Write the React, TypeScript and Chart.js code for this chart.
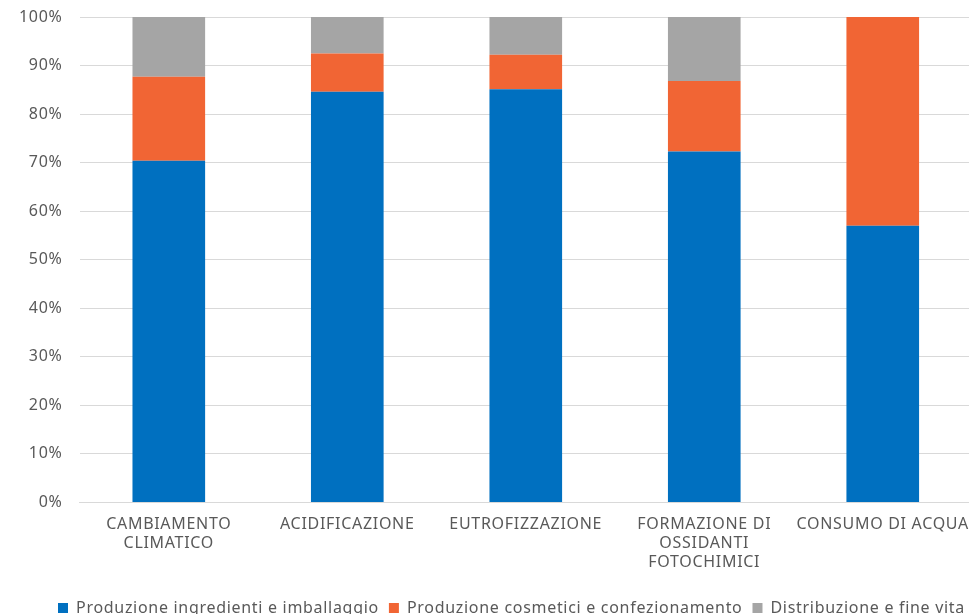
import React, { useEffect, useRef } from "react";
import { Chart, registerables } from "chart.js";

Chart.register(...registerables);

const categories: (string | string[])[] = [
  ["CAMBIAMENTO", "CLIMATICO"],
  "ACIDIFICAZIONE",
  "EUTROFIZZAZIONE",
  ["FORMAZIONE DI", "OSSIDANTI", "FOTOCHIMICI"],
  "CONSUMO DI ACQUA",
];

const seriesNames = [
  "Produzione ingredienti e imballaggio",
  "Produzione cosmetici e confezionamento",
  "Distribuzione e fine vita",
];

const ingredienti = [70.4, 84.6, 85.1, 72.3, 57.0];
const cosmetici = [17.3, 7.9, 7.1, 14.5, 43.0];
const distribuzione = [12.3, 7.5, 7.8, 13.2, 0];

const colors = ["#0070C0", "#F16534", "#A5A5A5"];

const SPACING = "0.7px";

const textSpacing = {
  id: "textSpacing",
  beforeLayout(chart: any) {
    chart.ctx.letterSpacing = SPACING;
  },
  beforeDraw(chart: any) {
    chart.ctx.letterSpacing = SPACING;
  },
};

const legendShift = {
  id: "legendShift",
  afterLayout(chart: any) {
    if (chart.legend) {
      chart.legend.left += 17;
      chart.legend.right += 17;
    }
  },
};

export default function App() {
  const ref = useRef<HTMLCanvasElement>(null);

  useEffect(() => {
    document.body.style.margin = "0";
    const canvas = ref.current!;
    const font = "Noto Sans";
    const chart = new Chart(canvas, {
      type: "bar",
      data: {
        labels: categories,
        datasets: [ingredienti, cosmetici, distribuzione].map((d, i) => ({
          label: seriesNames[i],
          data: d,
          backgroundColor: colors[i],
          borderWidth: 0,
          barPercentage: 0.407,
          categoryPercentage: 1,
        })),
      },
      plugins: [textSpacing, legendShift],
      options: {
        animation: false,
        responsive: false,
        maintainAspectRatio: false,
        layout: { padding: { left: 17, top: 17, right: 0, bottom: 0 } },
        plugins: {
          tooltip: { enabled: false },
          legend: {
            position: "bottom",
            labels: {
              boxWidth: 10,
              boxHeight: 10,
              padding: 10,
              color: "#595959",
              font: { family: font, size: 16 },
            },
          },
        },
        scales: {
          x: {
            stacked: true,
            grid: { display: false, drawTicks: false },
            border: { display: true, color: "#D9D9D9", width: 1 },
            ticks: {
              color: "#595959",
              font: { family: font, size: 16 },
              padding: 12,
              maxRotation: 0,
              autoSkip: false,
            },
            afterFit: (scale: any) => {
              scale.height += 6;
              scale.paddingLeft = 0;
              scale.paddingRight = 0;
            },
          },
          y: {
            stacked: true,
            min: 0,
            max: 100,
            grid: {
              color: "#D9D9D9",
              lineWidth: 1,
              drawTicks: true,
              tickLength: 15,
              tickColor: "rgba(0,0,0,0)",
            },
            border: { display: false },
            ticks: {
              stepSize: 10,
              color: "#595959",
              font: { family: font, size: 16 },
              padding: 2,
              callback: (v: any) => v + "%",
            },
          },
        },
      },
    });
    return () => chart.destroy();
  }, []);

  return (
    <div style={{ width: 969, height: 614, overflow: "hidden", position: "relative" }}>
      <canvas ref={ref} width={972} height={626} style={{ display: "block" }} />
    </div>
  );
}
